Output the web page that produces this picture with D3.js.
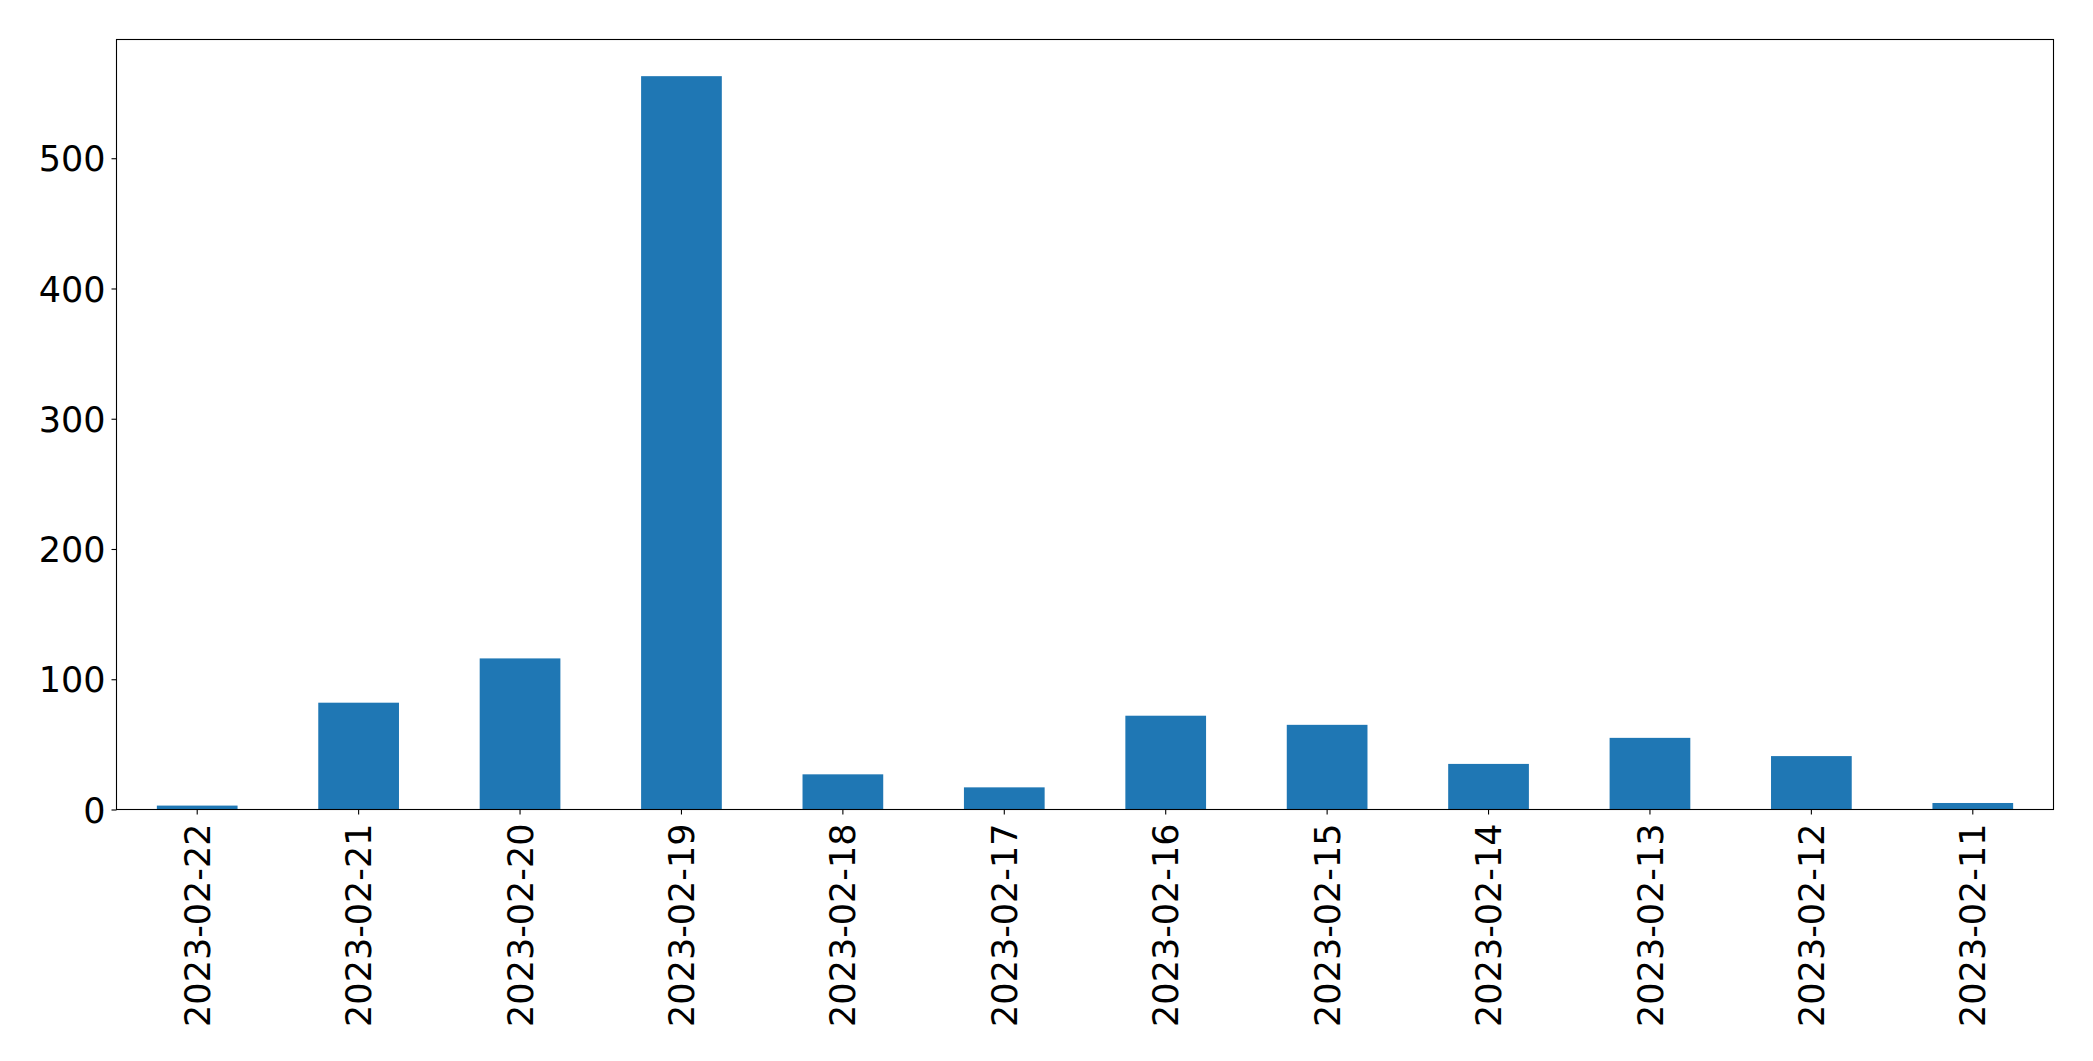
<!DOCTYPE html>
<html>
<head>
<meta charset="utf-8">
<script src="https://cdn.jsdelivr.net/npm/d3@7"></script>
<style>
  html, body { margin: 0; padding: 0; background: #fff; }
  svg { display: block; }
  text { font-family: "DejaVu Sans", sans-serif; fill: #000; }
</style>
</head>
<body>
<svg id="chart" width="2093" height="1061"></svg>
<script>
const categories = ["2023-02-22","2023-02-21","2023-02-20","2023-02-19","2023-02-18","2023-02-17",
                    "2023-02-16","2023-02-15","2023-02-14","2023-02-13","2023-02-12","2023-02-11"];
const values = [3, 82, 116, 563, 27, 17, 72, 65, 35, 55, 41, 5];
const yTicks = [0, 100, 200, 300, 400, 500];

const W = 2093, H = 1061;
const margin = {left: 116.5, right: W - 2053.5, top: 39.5, bottom: H - 809.5};
const svg = d3.select("#chart");
const g = svg.append("g");

const x = d3.scaleBand()
  .domain(categories)
  .range([margin.left, W - margin.right])
  .paddingInner(0.5)
  .paddingOuter(0.25);

const yMax = d3.max(values) * 1.05;
const y = d3.scaleLinear().domain([0, yMax]).range([H - margin.bottom, margin.top]);

// bars
g.selectAll("rect.bar").data(values).enter().append("rect")
  .attr("class", "bar")
  .attr("x", (d, i) => x(categories[i]))
  .attr("width", x.bandwidth())
  .attr("y", d => y(d))
  .attr("height", d => y(0) - y(d))
  .attr("fill", "#1f77b4");

// y axis
const yAxis = d3.axisLeft(y).tickValues(yTicks).tickSize(5).tickPadding(6).tickFormat(d3.format("d"));
const ya = svg.append("g").attr("transform", `translate(${margin.left},0)`).call(yAxis);
ya.select(".domain").remove();
ya.selectAll(".tick line").attr("stroke", "#000").attr("stroke-width", 1.1);
ya.selectAll(".tick text").attr("font-size", 35).attr("font-family", "DejaVu Sans").attr("dy", "0.36em");

// x axis
const xAxis = d3.axisBottom(x).tickSize(5).tickPadding(0);
const xa = svg.append("g").attr("transform", `translate(0,${H - margin.bottom})`).call(xAxis);
xa.select(".domain").remove();
xa.selectAll(".tick line").attr("stroke", "#000").attr("stroke-width", 1.1);
xa.selectAll(".tick text")
  .attr("font-size", 35)
  .attr("font-family", "DejaVu Sans")
  .attr("text-anchor", "end")
  .attr("y", 0)
  .attr("dy", "0.36em")
  .attr("transform", "translate(0,14) rotate(-90)");

// frame (spines)
svg.append("rect")
  .attr("x", margin.left).attr("y", margin.top)
  .attr("width", W - margin.right - margin.left)
  .attr("height", H - margin.bottom - margin.top)
  .attr("fill", "none").attr("stroke", "#000").attr("stroke-width", 1.1);
</script>
</body>
</html>
